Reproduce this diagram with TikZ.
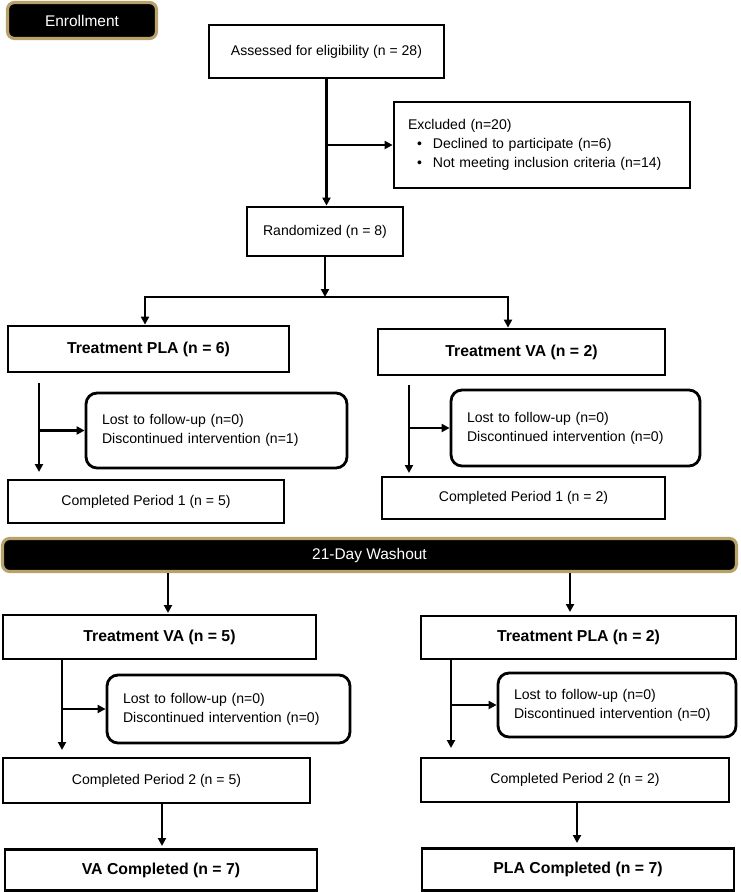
\documentclass[tikz,border=0pt]{standalone}
\usepackage{fontspec}
\setmainfont{Liberation Sans}
\usetikzlibrary{arrows.meta}
\definecolor{gold}{RGB}{184,162,106}
\tikzset{
	box/.style={draw, line width=1.6pt, inner sep=0pt, align=center, font=\fontsize{8}{10}\selectfont},
	boldbox/.style={box, font=\fontsize{9}{11}\selectfont\bfseries},
	exclbox/.style={draw, line width=1.6pt, align=left, inner xsep=0.28cm, inner ysep=0pt, text width=#1, font=\fontsize{8}{11}\selectfont},
	lostbox/.style={draw, line width=1.6pt, rounded corners=0.22cm, align=left, inner xsep=0.32cm, inner ysep=0pt, text width=#1, font=\fontsize{8}{10.8}\selectfont},
	banner/.style={fill=black, draw=gold, line width=1.8pt, rounded corners=0.14cm, text=white, inner sep=0pt, font=\fontsize{8.8}{10}\selectfont},
	arr/.style={-{Triangle[length=1.6mm,width=1.6mm]}, line width=1.4pt},
}
\begin{document}
\begin{tikzpicture}[x=0.02cm, y=-0.02cm]
		\useasboundingbox (0,0) rectangle (740,892);
		
		\node at (82,20.5) [banner, minimum width=2.98cm, minimum height=0.72cm] (enroll) {Enrollment};
		\node at (326.5,51.5) [box, minimum width=4.7cm, minimum height=1.06cm] (assess) {Assessed for eligibility (n = 28)};
		\node at (542,145) [exclbox=5.36cm, minimum height=1.72cm] (excl) {Excluded (n=20)\\
			\hspace*{0.18cm}\textbullet\hspace{0.22cm}Declined to participate (n=6)\\
			\hspace*{0.18cm}\textbullet\hspace{0.22cm}Not meeting inclusion criteria (n=14)};
		\node at (325,231.5) [box, minimum width=3.12cm, minimum height=0.98cm] (rand) {Randomized (n = 8)};
		
		\draw[arr] (assess.south) -- (assess.south |- rand.north);
		\draw[arr] (assess.south |- excl.west) -- (excl.west);
		\coordinate (split) at (325,297);
		\draw[arr] (rand.south) -- (split);
		
		\node at (148.5,349) [boldbox, minimum width=5.62cm, minimum height=0.92cm] (plaA) {Treatment PLA (n = 6)};
		\node at (521.5,352) [boldbox, minimum width=5.74cm, minimum height=0.92cm] (vaA) {Treatment VA (n = 2)};
		\draw[arr] (split) -| ([xshift=-0.07cm]plaA.north);
		\draw[arr] (split) -| ([xshift=-0.27cm]vaA.north);
		
		\node at (216.5,430.5) [lostbox=4.58cm, minimum height=1.5cm] (lostA) {Lost to follow-up (n=0)\\Discontinued intervention (n=1)};
		\node at (575.5,428) [lostbox=4.34cm, minimum height=1.52cm] (lostB) {Lost to follow-up (n=0)\\Discontinued intervention (n=0)};
		\node at (146,501.5) [box, minimum width=5.52cm, minimum height=0.86cm] (compA) {Completed Period 1 (n = 5)};
		\node at (523.5,498) [box, minimum width=5.66cm, minimum height=0.84cm] (compB) {Completed Period 1 (n = 2)};
		
		\coordinate (sA) at (39,383);
		\coordinate (eA) at (39,472);
		\draw[arr] (sA) -- (eA);
		\draw[arr] (sA |- lostA.west) -- (lostA.west);
		\coordinate (sB) at (409,385);
		\coordinate (eB) at (409,473);
		\draw[arr] (sB) -- (eB);
		\draw[arr] (sB |- lostB.west) -- (lostB.west);
		
		\node at (369.5,555) [banner, minimum width=14.68cm, minimum height=0.66cm] (wash) {21-Day Washout};
		
		\node at (159.5,637) [boldbox, minimum width=6.26cm, minimum height=0.88cm] (vaB) {Treatment VA (n = 5)};
		\node at (578.5,637.5) [boldbox, minimum width=6.3cm, minimum height=0.86cm] (plaB) {Treatment PLA (n = 2)};
		\coordinate (wA) at (168,613);
		\coordinate (wB) at (570,612);
		\draw[arr] (wA |- wash.south) -- (wA);
		\draw[arr] (wB |- wash.south) -- (wB);
		
		\node at (228.5,709) [lostbox=4.22cm, minimum height=1.36cm] (lostC) {Lost to follow-up (n=0)\\Discontinued intervention (n=0)};
		\node at (617,705) [lostbox=4.12cm, minimum height=1.28cm] (lostD) {Lost to follow-up (n=0)\\Discontinued intervention (n=0)};
		\node at (156.5,780.5) [box, minimum width=6.14cm, minimum height=0.9cm] (compC) {Completed Period 2 (n = 5)};
		\node at (575,780) [box, minimum width=6.16cm, minimum height=0.88cm] (compD) {Completed Period 2 (n = 2)};
		
		\coordinate (sC) at (62,659);
		\coordinate (eC) at (62,750);
		\draw[arr] (sC) -- (eC);
		\draw[arr] (sC |- lostC.west) -- (lostC.west);
		\coordinate (sD) at (451,659);
		\coordinate (eD) at (451,748);
		\draw[arr] (sD) -- (eD);
		\draw[arr] (sD |- lostD.west) -- (lostD.west);
		
		\node at (161,870) [boldbox, minimum width=6.24cm, minimum height=0.82cm] (doneA) {VA Completed (n = 7)};
		\node at (578,869.5) [boldbox, minimum width=6.24cm, minimum height=0.84cm] (doneB) {PLA Completed (n = 7)};
		\coordinate (fA) at (162,846);
		\coordinate (fB) at (577,843);
		\draw[arr] (fA |- compC.south) -- (fA);
		\draw[arr] (fB |- compD.south) -- (fB);
	\end{tikzpicture}
\end{document}
